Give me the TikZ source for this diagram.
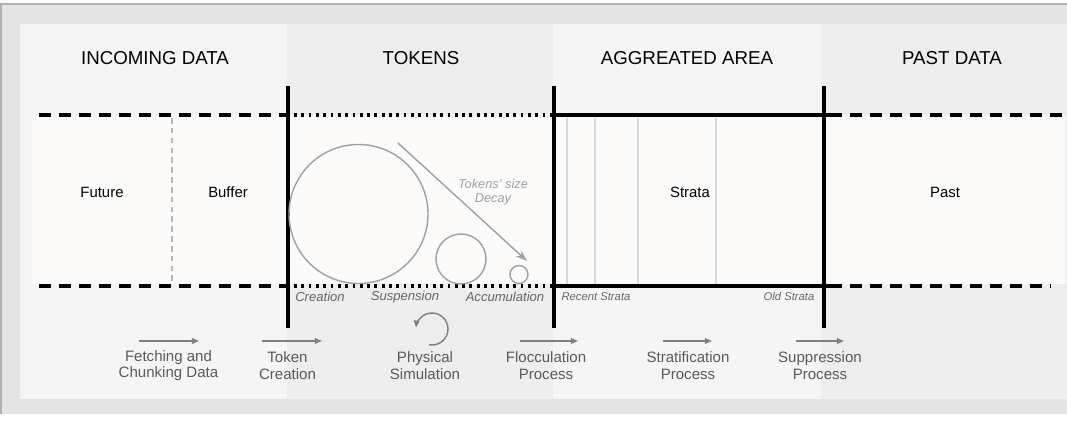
\documentclass[tikz,border=0pt]{standalone}
\usepackage{fontspec}
\setmainfont{Liberation Sans}
\usetikzlibrary{arrows.meta,calc}
\definecolor{outergray}{HTML}{E4E4E4}
\definecolor{collight}{HTML}{F5F5F5}
\definecolor{coldark}{HTML}{EEEEEE}
\definecolor{bandfill}{HTML}{FCFBFA}
\definecolor{borderline}{HTML}{B0B0B0}
\definecolor{circgray}{HTML}{A0A0A0}
\definecolor{italgray}{HTML}{666666}
\definecolor{labgray}{HTML}{5A5A5A}
\definecolor{stratline}{HTML}{D8D8D8}
\definecolor{divline}{HTML}{B8B8B8}
\tikzset{
  title/.style={font=\fontsize{13.3pt}{16pt}\selectfont, text=black, inner sep=0pt},
  region/.style={font=\fontsize{10.6pt}{12pt}\selectfont, text=black, inner sep=0pt},
  ital/.style={font=\fontsize{9.3pt}{11pt}\selectfont\itshape, text=italgray, inner sep=0pt},
  smallital/.style={font=\fontsize{8pt}{10pt}\selectfont\itshape, text=italgray, inner sep=0pt},
  decaytxt/.style={font=\fontsize{9.1pt}{10pt}\selectfont\itshape, text=circgray, inner sep=0pt, align=center},
  proc/.style={font=\fontsize{10.7pt}{11.7pt}\selectfont, text=labgray, inner sep=0pt, align=center},
  thickbar/.style={line width=2.2pt, black},
  dashbar/.style={line width=2.2pt, black, dash pattern=on 8.5pt off 5.7pt},
  dotbar/.style={line width=2.2pt, black, dash pattern=on 2pt off 3.2pt},
  token/.style={draw=circgray, line width=1pt, circle, inner sep=0pt},
  procarrow/.style={draw=gray, line width=1pt, -{Triangle[length=5pt,width=4pt]}},
}
\begin{document}
\begin{tikzpicture}[x=0.025cm,y=-0.025cm]
\useasboundingbox (0,0) rectangle (1067,444);
% outer background
\fill[white] (0,0) rectangle (1067,444);
\fill[outergray] (1,4) rectangle (1067,414);
\draw[borderline, line width=0.8pt] (1,414) -- (1,4) -- (1067,4);
% column panels
\fill[collight] (20,24.5) rectangle (287,399);
\fill[coldark] (287,24.5) rectangle (553,399);
\fill[collight] (553,24.5) rectangle (821,399);
\fill[coldark] (821,24.5) rectangle (1067,399);
% central band
\fill[bandfill] (32,116) rectangle (1065,284);
% column titles
\node[title] (tin) at (155,58) {INCOMING DATA};
\node[title] (ttok) at (421,58) {TOKENS};
\node[title] (tagg) at (687,58) {AGGREATED AREA};
\node[title] (tpast) at (952,58) {PAST DATA};
% buffer divider
\draw[divline, line width=0.8pt, dash pattern=on 4pt off 3pt] (172,118) -- (172,285);
% strata lines
\foreach \sx in {567,595,638,716} \draw[stratline, line width=1pt] (\sx,118) -- (\sx,284);
% horizontal boundaries
\draw[dashbar] (39,115) -- (288,115);
\draw[dashbar] (39,286) -- (288,286);
\draw[dotbar] (294,115) -- (553,115);
\draw[dotbar] (294,286) -- (553,286);
\draw[thickbar] (553,115) -- (830,115);
\draw[thickbar] (553,286) -- (830,286);
\draw[dashbar] (830,115) -- (1067,115);
\draw[dashbar] (830,286) -- (1050,286);
% vertical bars
\draw[thickbar] (288,86) -- (288,328);
\draw[thickbar] (554,86) -- (554,328);
\draw[thickbar] (824,86) -- (824,328);
% region labels
\node[region] (future) at (102,192) {Future};
\node[region] (buffer) at (228,192) {Buffer};
\node[region] (strata) at (690,192) {Strata};
\node[region] (past) at (945,192) {Past};
% tokens
\node[token, minimum size=139*0.025cm] (big) at (358.5,214) {};
\node[token, minimum size=50*0.025cm] (mid) at (461,259) {};
\node[token, minimum size=18*0.025cm] (small) at (519,274.5) {};
\coordinate (decayA) at (398,143);
\coordinate (decayB) at (527,261);
\draw[circgray, line width=1pt, -{Stealth[length=8pt,width=5.5pt,open]}] (decayA) -- (decayB);
\node[decaytxt] (decay) at (493,192) {Tokens' size\\Decay};
% italic labels
\node[ital] (lcre) at (320,297) {Creation};
\node[ital] (lsus) at (405,297) {Suspension};
\node[ital] (lacc) at (505,297) {Accumulation};
\node[smallital] (lrec) at (596,296.5) {Recent Strata};
\node[smallital] (lold) at (789,296.5) {Old Strata};
% process arrows
\coordinate (a1s) at (139,341); \coordinate (a1e) at (199,341);
\coordinate (a2s) at (262,341); \coordinate (a2e) at (322,341);
\coordinate (a3s) at (520,341); \coordinate (a3e) at (578,341);
\coordinate (a4s) at (663,341); \coordinate (a4e) at (712,341);
\coordinate (a5s) at (796,341); \coordinate (a5e) at (844,341);
\draw[procarrow] (a1s) -- (a1e);
\draw[procarrow] (a2s) -- (a2e);
\draw[procarrow] (a3s) -- (a3e);
\draw[procarrow] (a4s) -- (a4e);
\draw[procarrow] (a5s) -- (a5e);
\coordinate (rotc) at (432,329);
\draw[gray, line width=1pt, -{Triangle[length=5pt,width=4pt]}] ($(rotc)+(100:16)$) arc[start angle=100, end angle=-175, radius=16];
% process labels
\node[proc] (p1) at (168.5,365.5) {Fetching and\\Chunking Data};
\node[proc] (p2) at (287.5,365.5) {Token\\Creation};
\node[proc] (p3) at (425,365.5) {Physical\\Simulation};
\node[proc] (p4) at (546,365.5) {Flocculation\\Process};
\node[proc] (p5) at (688,365.5) {Stratification\\Process};
\node[proc] (p6) at (820,365.5) {Suppression\\Process};
\end{tikzpicture}
\end{document}
